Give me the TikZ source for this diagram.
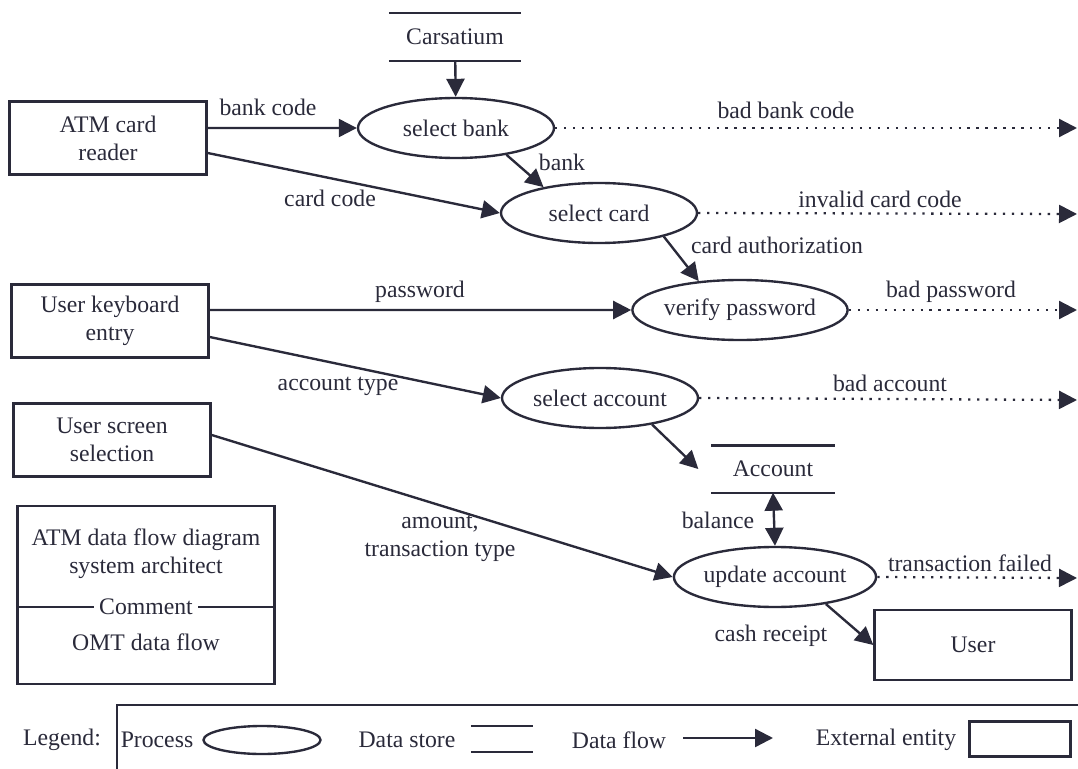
\documentclass[tikz,border=0pt]{standalone}
\usepackage{fontspec}
\setmainfont{Liberation Serif}
\usetikzlibrary{shapes.geometric}
\usetikzlibrary{arrows.meta}

\definecolor{ink}{RGB}{42,42,58}

\begin{document}
\begin{tikzpicture}[x=0.2mm, y=-0.2mm, color=ink, line width=1.35pt,
    every node/.style={font=\fontsize{13.5}{16}\selectfont},
    process/.style={ellipse, draw, minimum width=39.2mm, minimum height=12mm, inner sep=0pt},
    entity/.style={rectangle, draw, minimum width=39.4mm, minimum height=14.6mm, align=center},
    store/.style={minimum width=26mm, minimum height=9.2mm, inner sep=0pt},
    flow/.style={-{Triangle[length=3.6mm, width=3.6mm]}},
    biflow/.style={{Triangle[length=3.6mm, width=3.6mm]}-{Triangle[length=3.6mm, width=3.6mm]}},
    badflow/.style={flow, line width=1.3pt, dash pattern=on 1.3pt off 3.8pt}]

    \useasboundingbox (0,0) rectangle (1078,769);

    \node[entity] (cardreader) at (108,138) {ATM card\\reader};
    \node[entity] (keyboard) at (110,321) {User keyboard\\entry};
    \node[entity] (screen) at (112,440) {User screen\\selection};
    \node[entity, minimum height=14mm] (user) at (973,645) {User};

    \node[process] (selbank) at (456,128) {select bank};
    \node[process] (selcard) at (599,213) {select card};
    \node[process] (verify) at (740,310) {verify password};
    \node[process] (selacct) at (600,398) {select account};
    \node[process] (update) at (775,577) {update account};

    \node[store] (carsatium) at (455,37) {Carsatium};
    \node[store, minimum width=24.2mm, minimum height=9mm] (account) at (773,469) {Account};

    \coordinate (badbank) at (1077,128);
    \coordinate (badcard) at (1077,214);
    \coordinate (badpass) at (1077,310);
    \coordinate (badacct) at (1077,400);
    \coordinate (failed) at (1077,578);

    \draw[flow] (carsatium) -- (selbank);
    \draw[flow] ([yshift=2mm]cardreader.east) -- (selbank.west);
    \draw[flow] ([yshift=-3mm]cardreader.east) -- (selcard.west);
    \draw[flow] (selbank.-28) -- (selcard.155);
    \draw[flow] (selcard.-20) -- (verify.145);
    \draw[flow] ([yshift=2.2mm]keyboard.east) -- (verify.west);
    \draw[flow] ([yshift=-3.2mm]keyboard.east) -- (selacct.west);
    \draw[flow] ([yshift=1mm]screen.east) -- (update.west);
    \draw[flow] (selacct.-27) -- ([xshift=-2.6mm]account.west);
    \draw[biflow] (account.south) -- (update.north);
    \draw[flow] (update.-28) -- (user.west);

    \draw[badflow] (selbank.east) -- (badbank);
    \draw[badflow] (selcard.east) -- (badcard);
    \draw[badflow] (verify.east) -- (badpass);
    \draw[badflow] (selacct.east) -- (badacct);
    \draw[badflow] (update.east) -- (failed);

    \node (bankcode) at (268,107) {bank code};
    \node (badbanklbl) at (786,110) {bad bank code};
    \node (banklbl) at (562,162) {bank};
    \node (cardcode) at (330,198) {card code};
    \node (badcardlbl) at (880,199) {invalid card code};
    \node (authlbl) at (777,245) {card authorization};
    \node (passlbl) at (420,292) {password};
    \node (badpasslbl) at (951,292) {bad password};
    \node (typelbl) at (338,386) {account type};
    \node (badacctlbl) at (890,383) {bad account};
    \node (balancelbl) at (718,520) {balance};
    \node[align=center] (amountlbl) at (440,538) {amount,\\transaction type};
    \node (failedlbl) at (970,563) {transaction failed};
    \node (cashlbl) at (771,636) {cash receipt};

    % comment block
    \node[draw, minimum width=51.4mm, minimum height=35.6mm] (commentbox) at (146,595) {};
    \node[align=center] (titlelbl) at (146,554) {ATM data flow diagram\\system architect};
    \draw (commentbox.west |- 0,607) -- (commentbox.east |- 0,607);
    \node[fill=white, inner sep=3pt] (commentlbl) at (146,607) {Comment};
    \node (omtlbl) at (146,642) {OMT data flow};

    % legend
    \draw (117,769) -- (117,705) -- (1078,705);
    \node (legendlbl) at (62,740) {Legend:};
    \node (lproc) at (157,740) {Process};
    \node[process, minimum width=23.4mm, minimum height=5.6mm] (lprocshape) at (262,740) {};
    \node (lstore) at (407,740) {Data store};
    \node[store, minimum width=12mm, minimum height=4.8mm] (legstore) at (502,739) {};
    \node (lflow) at (619,740) {Data flow};
    \coordinate (lflowa) at (683,738);
    \coordinate (lflowb) at (773,738);
    \draw[flow] (lflowa) -- (lflowb);
    \node (lent) at (886,740) {External entity};
    \node[draw, minimum width=20.2mm, minimum height=7mm] (lentbox) at (1020,739) {};

    \foreach \s in {carsatium, account, legstore} {
        \draw (\s.north west) -- (\s.north east);
        \draw (\s.south west) -- (\s.south east);
    }

\end{tikzpicture}
\end{document}
